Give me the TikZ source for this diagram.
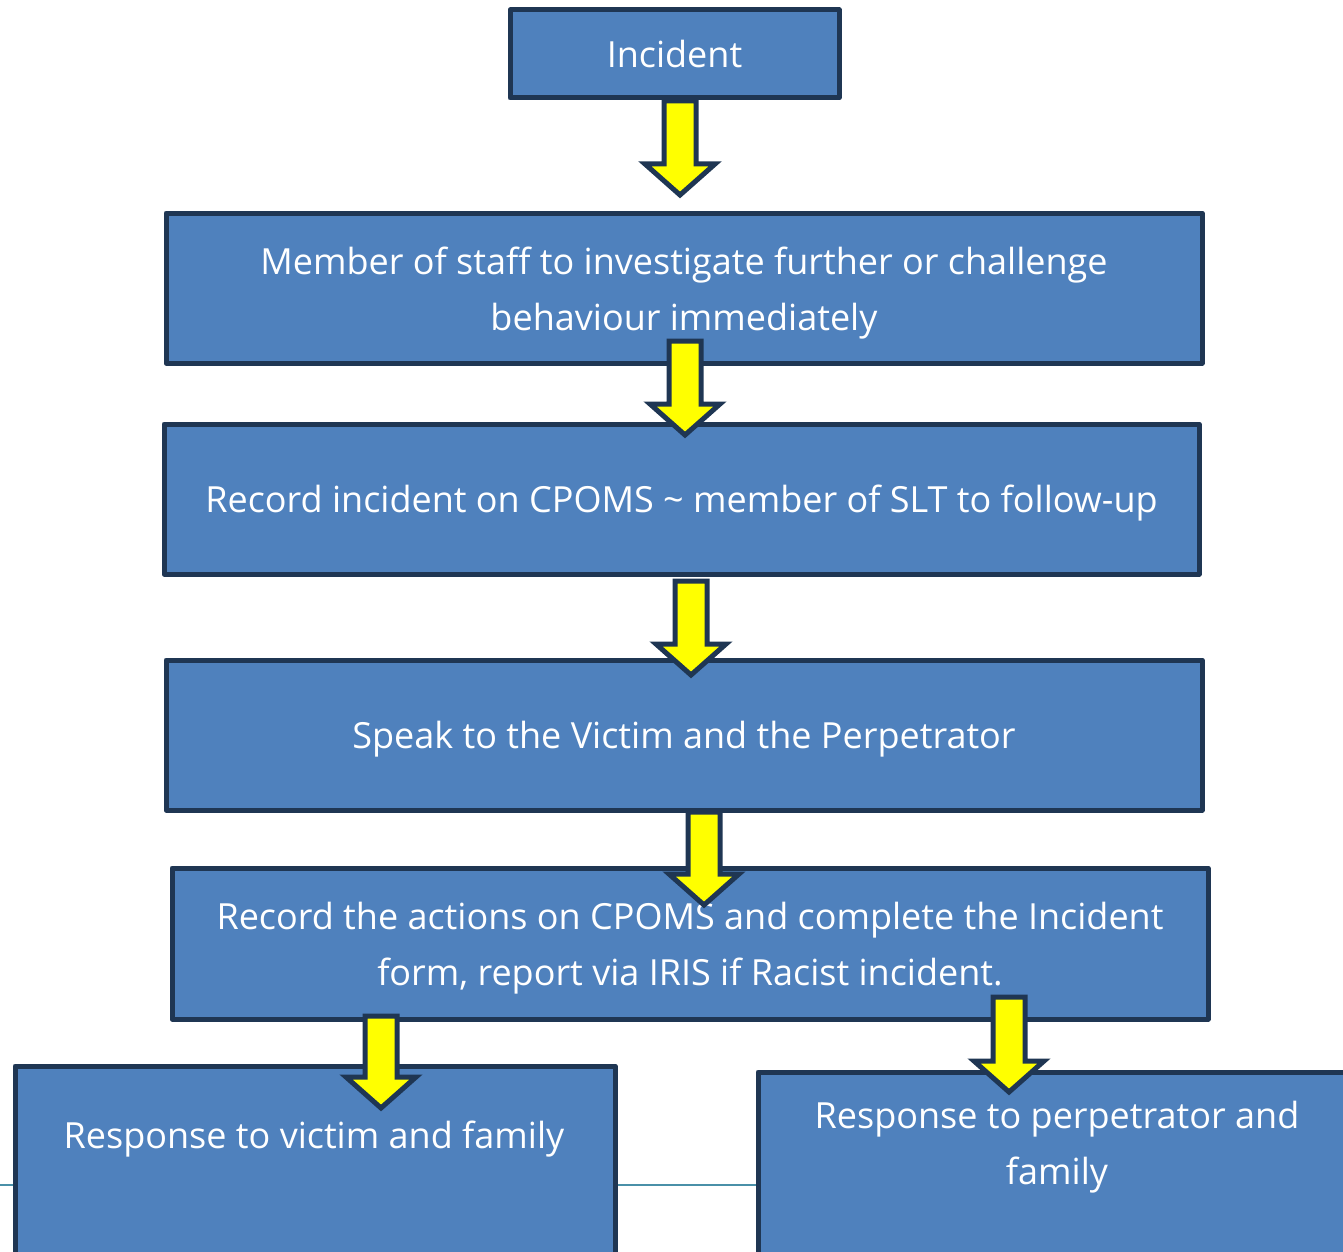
\documentclass[tikz,border=0pt]{standalone}
\usepackage{fontspec}
\setmainfont{Open Sans}
\usetikzlibrary{calc}
\definecolor{boxfill}{HTML}{4F81BD}
\definecolor{boxline}{HTML}{1F3653}
\definecolor{arrfill}{HTML}{FFFF00}
\definecolor{rulecol}{HTML}{4A90A8}
\tikzset{
  stepbox/.style={draw=boxline, fill=boxfill, line width=5pt, line join=round,
    rectangle, inner sep=0pt},
  boxtext/.style={text=white, align=center, inner sep=0pt,
    font=\fontsize{36}{56}\selectfont},
  blockarr/.style={draw=boxline, fill=arrfill, line width=5pt, line join=miter}
}
\newcommand\blockarrow[2]{%
  \draw[blockarr] let \p1=(#1), \p2=(#2) in
    ({\x1-16pt},\y1) -- ({\x1+16pt},\y1) -- ({\x1+16pt},{\y2+31pt})
    -- ({\x1+35pt},{\y2+31pt}) -- (\x1,\y2) -- ({\x1-35pt},{\y2+31pt})
    -- ({\x1-16pt},{\y2+31pt}) -- cycle;}
\begin{document}
\begin{tikzpicture}[x=1pt,y=-1pt]
\useasboundingbox (0,0) rectangle (1343,1252);
% background rule
\coordinate (r1) at (0,1185);
\coordinate (r2) at (760,1185);
\draw[rulecol, line width=2pt] (r1) -- (r2);
% boxes
\node[stepbox, minimum width=329pt, minimum height=88pt] (b1) at (674.5,54) {};
\node[stepbox, minimum width=1036pt, minimum height=150pt] (b2) at (684,288) {};
\node[stepbox, minimum width=1035pt, minimum height=150pt] (b3) at (681.5,499) {};
\node[stepbox, minimum width=1036pt, minimum height=150pt] (b4) at (684,735) {};
\node[stepbox, minimum width=1036pt, minimum height=151pt] (b5) at (690,943.5) {};
\node[stepbox, minimum width=600pt, minimum height=224pt] (b6) at (315,1178) {};
\node[stepbox, minimum width=600pt, minimum height=218pt] (b7) at (1058,1181) {};
% texts
\node[boxtext] (t1) at (b1.center) {Incident};
\node[boxtext, yshift=-5pt] (t2) at (b2.center)
  {Member of staff to investigate further or challenge\\behaviour immediately};
\node[boxtext, yshift=-4pt] (t3) at (b3.center)
  {Record incident on CPOMS \textasciitilde{} member of SLT to follow-up};
\node[boxtext, yshift=-4pt] (t4) at (b4.center)
  {Speak to the Victim and the Perpetrator};
\node[boxtext, yshift=-5pt] (t5) at (b5.center)
  {Record the actions on CPOMS and complete the Incident\\form, report via IRIS if Racist incident.};
\node[boxtext, anchor=base] (t6) at (314,1148) {Response to victim and family};
\node[boxtext] (t7) at (1057,1147) {Response to perpetrator and\\family};
% arrows
\coordinate (a1s) at (680,101);  \coordinate (a1e) at (680,195);
\coordinate (a2s) at (685,341);  \coordinate (a2e) at (685,435);
\coordinate (a3s) at (691,581);  \coordinate (a3e) at (691,675);
\coordinate (a4s) at (704,812);  \coordinate (a4e) at (704,905);
\coordinate (a5s) at (381,1016); \coordinate (a5e) at (381,1108);
\coordinate (a6s) at (1009,997); \coordinate (a6e) at (1009,1092);
\blockarrow{a1s}{a1e}
\blockarrow{a2s}{a2e}
\blockarrow{a3s}{a3e}
\blockarrow{a4s}{a4e}
\blockarrow{a5s}{a5e}
\blockarrow{a6s}{a6e}
\end{tikzpicture}
\end{document}
